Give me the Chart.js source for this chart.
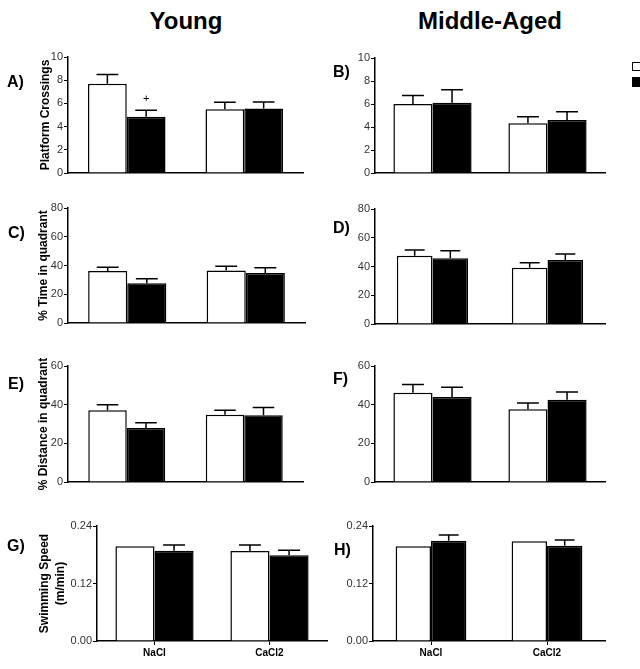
<!DOCTYPE html>
<html>
<head>
<meta charset="utf-8">
<script src="https://cdn.jsdelivr.net/npm/chart.js@4"></script>
<style>
  body { margin: 0; width: 640px; height: 669px; position: relative; overflow: hidden; background: #fff; font-family: 'Liberation Sans', Arial, sans-serif; }
  .head { position: absolute; top: 7px; font-size: 24px; line-height: 28px; font-weight: bold; transform: translateX(-50%); white-space: nowrap; }
  .letter { position: absolute; font-size: 16px; line-height: 18px; font-weight: bold; transform: translateY(-50%); }
  .key { position: absolute; left: 632px; width: 10px; box-sizing: border-box; border: 1.5px solid #000; }
</style>
</head>
<body>
<div class="head" style="left:186px">Young</div>
<div class="head" style="left:490px">Middle-Aged</div>
<div class="key" style="top:62px;height:9px;background:#fff"></div>
<div class="key" style="top:77px;height:10px;background:#000"></div>
<script>
const groups = ['NaCl', 'CaCl2'];

// platform crossings
const crossYoungWhite = [7.7, 5.5];
const crossYoungWhiteErr = [0.8, 0.6];
const crossYoungBlack = [4.85, 5.55];
const crossYoungBlackErr = [0.55, 0.57];
const crossMidWhite = [6.0, 4.33];
const crossMidWhiteErr = [0.75, 0.57];
const crossMidBlack = [6.1, 4.6];
const crossMidBlackErr = [1.15, 0.72];

// % time in quadrant
const timeYoungWhite = [36.2, 36.6];
const timeYoungWhiteErr = [2.5, 2.8];
const timeYoungBlack = [27.6, 34.8];
const timeYoungBlackErr = [3.2, 3.7];
const timeMidWhite = [47.5, 39.2];
const timeMidWhiteErr = [4.0, 3.4];
const timeMidBlack = [45.7, 44.5];
const timeMidBlackErr = [5.3, 4.2];

// % distance in quadrant
const distYoungWhite = [37.1, 34.8];
const distYoungWhiteErr = [2.9, 2.3];
const distYoungBlack = [27.9, 34.5];
const distYoungBlackErr = [2.8, 4.0];
const distMidWhite = [46.2, 37.6];
const distMidWhiteErr = [4.2, 3.3];
const distMidBlack = [44.0, 42.6];
const distMidBlackErr = [5.0, 4.0];

// swimming speed
const speedYoungWhite = [0.198, 0.188];
const speedYoungWhiteErr = [0, 0.0125];
const speedYoungBlack = [0.1885, 0.179];
const speedYoungBlackErr = [0.0118, 0.0105];
const speedMidWhite = [0.198, 0.208];
const speedMidWhiteErr = [0, 0];
const speedMidBlack = [0.209, 0.199];
const speedMidBlackErr = [0.012, 0.012];

// significance marks over bars
const crossYoungBlackMarks = ['+', ''];

Chart.defaults.font.family = "'Liberation Sans', Arial, sans-serif";

const errorBars = {
  id: 'errorBars',
  afterDatasetsDraw(chart) {
    const ctx = chart.ctx, y = chart.scales.y;
    ctx.save();
    ctx.strokeStyle = '#000';
    ctx.lineWidth = 1.5;
    chart.data.datasets.forEach((ds, i) => {
      chart.getDatasetMeta(i).data.forEach((bar, j) => {
        const e = ds.errors[j];
        let top = bar.y;
        if (e) {
          top = y.getPixelForValue(ds.data[j] + e);
          const half = bar.width * 0.28;
          ctx.beginPath();
          ctx.moveTo(bar.x, bar.y);
          ctx.lineTo(bar.x, top);
          ctx.moveTo(bar.x - half, top);
          ctx.lineTo(bar.x + half, top);
          ctx.stroke();
        }
        if (ds.marks && ds.marks[j]) {
          ctx.fillStyle = '#000';
          ctx.font = "11px 'Liberation Sans', Arial, sans-serif";
          ctx.textAlign = 'center';
          ctx.textBaseline = 'middle';
          ctx.fillText(ds.marks[j], bar.x, top - 11);
        }
      });
    });
    ctx.restore();
  }
};

function makePanel(p) {
  const padTop = 16;
  const xH = p.showCats ? 26 : 14;
  const [l, t, r, b] = p.box;
  const cl = p.canvasLeft;
  const w = r - cl + 4, h = b - t + padTop + xH;
  const canvas = document.createElement('canvas');
  canvas.width = w;
  canvas.height = h;
  canvas.style.cssText = `position:absolute;left:${cl}px;top:${t - padTop}px;width:${w}px;height:${h}px`;
  document.body.appendChild(canvas);

  const letter = document.createElement('div');
  letter.className = 'letter';
  letter.textContent = p.letter;
  letter.style.left = p.letterPos[0] + 'px';
  letter.style.top = p.letterPos[1] + 'px';
  document.body.appendChild(letter);

  new Chart(canvas, {
    type: 'bar',
    data: {
      labels: groups,
      datasets: [
        { data: p.white, errors: p.whiteErr, backgroundColor: '#fff', borderColor: '#000', borderWidth: 1.5 },
        { data: p.black, errors: p.blackErr, marks: p.blackMarks, backgroundColor: '#000', borderColor: '#000', borderWidth: 1.5 }
      ]
    },
    options: {
      responsive: false,
      animation: false,
      devicePixelRatio: 1,
      layout: { padding: { top: padTop, right: 4, left: 0, bottom: 0 } },
      datasets: { bar: { categoryPercentage: p.cat, barPercentage: 1 } },
      plugins: { legend: { display: false }, tooltip: { enabled: false } },
      scales: {
        x: {
          grid: { display: !!p.showCats, offset: false, drawOnChartArea: false, drawTicks: true, tickLength: 4, color: '#000', lineWidth: 1 },
          border: { color: '#000', width: 1.5 },
          ticks: { display: !!p.showCats, font: { size: 10, weight: 'bold' }, color: '#000', padding: 2, maxRotation: 0 },
          afterFit: s => { s.height = xH; }
        },
        y: {
          min: 0,
          max: p.max,
          ticks: {
            stepSize: p.step,
            font: { size: 11 },
            color: '#333',
            padding: 1,
            callback: p.decimals ? v => Number(v).toFixed(2) : v => v
          },
          grid: { drawOnChartArea: false, drawTicks: true, tickLength: 4, color: '#000', lineWidth: 1 },
          border: { color: '#000', width: 1.5 },
          title: {
            display: !!p.yTitle,
            text: p.yTitle || '',
            font: { size: 12, weight: 'bold', lineHeight: 1.3 },
            color: '#000',
            padding: { top: p.titlePad || 0, bottom: 0 }
          },
          afterFit: s => { s.width = l - cl; }
        }
      }
    },
    plugins: [errorBars]
  });
}

const panels = [
  { letter: 'A)', letterPos: [7, 82], yTitle: 'Platform Crossings', titlePad: 38,
    white: crossYoungWhite, whiteErr: crossYoungWhiteErr, black: crossYoungBlack, blackErr: crossYoungBlackErr, blackMarks: crossYoungBlackMarks,
    max: 10, step: 2, box: [68, 57, 303, 173], canvasLeft: 0, cat: 0.66 },
  { letter: 'B)', letterPos: [333, 72],
    white: crossMidWhite, whiteErr: crossMidWhiteErr, black: crossMidBlack, blackErr: crossMidBlackErr,
    max: 10, step: 2, box: [375, 58, 605, 173], canvasLeft: 320, cat: 0.68 },
  { letter: 'C)', letterPos: [8, 233], yTitle: '% Time in quadrant', titlePad: 36,
    white: timeYoungWhite, whiteErr: timeYoungWhiteErr, black: timeYoungBlack, blackErr: timeYoungBlackErr,
    max: 80, step: 20, box: [68, 208, 305, 323], canvasLeft: 0, cat: 0.66 },
  { letter: 'D)', letterPos: [333, 228],
    white: timeMidWhite, whiteErr: timeMidWhiteErr, black: timeMidBlack, blackErr: timeMidBlackErr,
    max: 80, step: 20, box: [375, 209, 605, 324], canvasLeft: 320, cat: 0.62 },
  { letter: 'E)', letterPos: [8, 384], yTitle: '% Distance in quadrant', titlePad: 36,
    white: distYoungWhite, whiteErr: distYoungWhiteErr, black: distYoungBlack, blackErr: distYoungBlackErr,
    max: 60, step: 20, box: [68, 366, 303, 482], canvasLeft: 0, cat: 0.655 },
  { letter: 'F)', letterPos: [333, 379],
    white: distMidWhite, whiteErr: distMidWhiteErr, black: distMidBlack, blackErr: distMidBlackErr,
    max: 60, step: 20, box: [375, 366, 605, 482], canvasLeft: 320, cat: 0.68 },
  { letter: 'G)', letterPos: [7, 546], yTitle: ['Swimming Speed', '(m/min)'], titlePad: 37,
    white: speedYoungWhite, whiteErr: speedYoungWhiteErr, black: speedYoungBlack, blackErr: speedYoungBlackErr,
    max: 0.24, step: 0.12, decimals: true, showCats: true, box: [97, 526, 327, 641], canvasLeft: 0, cat: 0.68 },
  { letter: 'H)', letterPos: [334, 550],
    white: speedMidWhite, whiteErr: speedMidWhiteErr, black: speedMidBlack, blackErr: speedMidBlackErr,
    max: 0.24, step: 0.12, decimals: true, showCats: true, box: [373, 526, 605, 641], canvasLeft: 320, cat: 0.61 }
];

panels.forEach(makePanel);
</script>
</body>
</html>
